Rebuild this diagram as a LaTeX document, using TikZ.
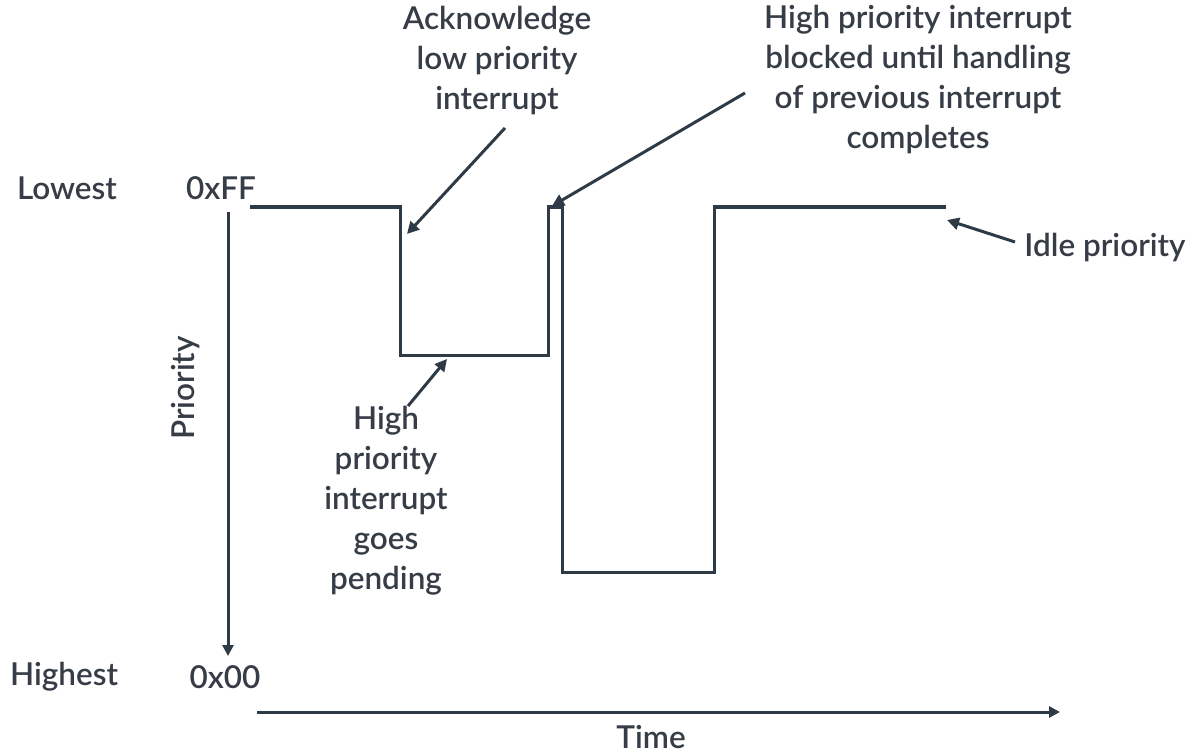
\documentclass[tikz,border=0pt]{standalone}
\usepackage{fontspec}
\setmainfont{Lato}[UprightFont={* Semibold}]
\usetikzlibrary{arrows.meta}
\definecolor{ink}{HTML}{2F3A47}
\definecolor{txt}{HTML}{363D47}
\tikzset{
  lbl/.style={text=txt, font=\fontsize{31.5}{40}\selectfont, align=center, inner sep=0pt},
  axis/.style={ink, line width=3pt, -{Triangle[length=11pt,width=11pt]}},
  pointer/.style={ink, line width=3pt, -{Triangle[length=12pt,width=12pt]}},
  signal/.style={ink, line width=3pt, line join=miter}
}
\begin{document}
\begin{tikzpicture}[x=1pt, y=-1pt]
  \useasboundingbox (0,0) rectangle (1204,754);

  % axes labels
  \node[lbl] (lowest)  at (67,188)  {Lowest};
  \node[lbl] (ff)      at (221,188) {0xFF};
  \node[lbl] (highest) at (64,677)  {Highest};
  \node[lbl] (zero)    at (225,677) {0x00};
  \node[lbl, rotate=90] (prio) at (186,388) {Priority};
  \node[lbl] (time)    at (651,737) {Time};

  % axes
  \coordinate (ptop) at (228,212);
  \coordinate (pbot) at (228,656);
  \coordinate (tleft) at (257,712);
  \coordinate (tright) at (1060,712);
  \draw[axis] (ptop) -- (pbot);
  \draw[axis] (tleft) -- (tright);

  % priority level
  \draw[signal] (250,207) -- (400,207) -- (400,355) -- (548,355) -- (548,207)
    -- (562,207) -- (562,572) -- (714,572) -- (714,207) -- (946,207);

  % annotations
  \node[lbl] (ack) at (497,61) {Acknowledge\\low priority\\interrupt};
  \node[lbl] (blocked) at (918,80) {High priority interrupt\\blocked until handling\\of previous interrupt\\completes};
  \node[lbl] (idle) at (1105,248) {Idle priority};
  \node[lbl] (pending) at (386,501) {High\\priority\\interrupt\\goes\\pending};

  \coordinate (ackfrom) at (505,128);
  \coordinate (ackto) at (407,234);
  \coordinate (blkfrom) at (745,93);
  \coordinate (blkto) at (552,206);
  \coordinate (idlefrom) at (1015,242);
  \coordinate (idleto) at (947,220);
  \coordinate (pendfrom) at (408,406);
  \coordinate (pendto) at (447,359);

  \draw[pointer] (ackfrom) -- (ackto);
  \draw[pointer] (blkfrom) -- (blkto);
  \draw[pointer] (idlefrom) -- (idleto);
  \draw[pointer] (pendfrom) -- (pendto);
\end{tikzpicture}
\end{document}
